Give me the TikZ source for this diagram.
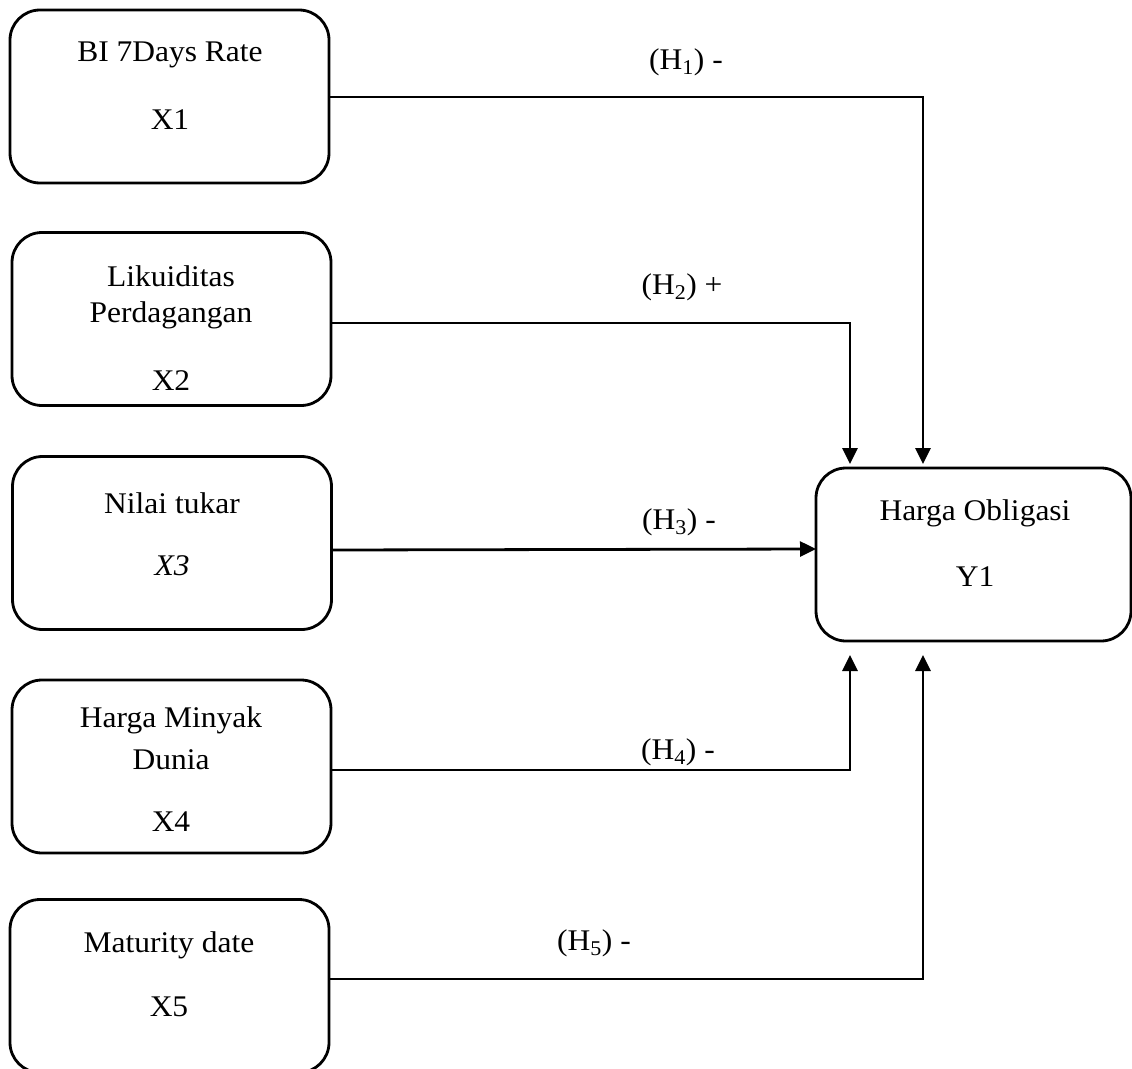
\documentclass[tikz,border=0pt]{standalone}
\usepackage{fontspec}
\setmainfont{Liberation Serif}[FakeStretch=1.05]
\usetikzlibrary{arrows.meta}
\begin{document}
\begin{tikzpicture}[x=1pt,y=-1pt,
  vbox/.style={draw,line width=2.8pt,rounded corners=30pt,rectangle,inner sep=0pt,outer sep=0pt,minimum width=319pt,minimum height=173pt},
  txt/.style={inner sep=0pt,font=\fontsize{30}{36}\selectfont},
  arr/.style={line width=2.8pt,-{Triangle[length=16pt,width=15pt]}}]
\useasboundingbox (0,0) rectangle (1132,1068);
% boxes
\node[vbox] (x1) at (169.5,96.5) {};
\node[vbox] (x2) at (171.5,319) {};
\node[vbox] (x3) at (172,543) {};
\node[vbox] (x4) at (171.5,766.5) {};
\node[vbox] (x5) at (169.5,986) {};
\node[vbox,minimum width=315pt] (y1) at (973.5,554.5) {};
% box texts
\node[txt] (x1a) at (170,55) {BI 7Days Rate};
\node[txt] (x1b) at (170,120) {X1};
\node[txt] (x2a) at (171,276) {Likuiditas};
\node[txt] (x2b) at (171,315) {Perdagangan};
\node[txt] (x2c) at (171,381) {X2};
\node[txt] (x3a) at (172,503) {Nilai tukar};
\node[txt] (x3b) at (172,566) {\itshape X3};
\node[txt] (x4a) at (171,720) {Harga Minyak};
\node[txt] (x4b) at (171,760) {Dunia};
\node[txt] (x4c) at (171,822) {X4};
\node[txt] (x5a) at (169,945) {Maturity date};
\node[txt] (x5b) at (169,1007) {X5};
\node[txt] (y1a) at (975,513) {Harga Obligasi};
\node[txt] (y1b) at (975,577) {Y1};
% hypothesis labels
\node[txt] (h1) at (686,62) {(H\textsubscript{1}) -};
\node[txt] (h2) at (682,287) {(H\textsubscript{2}) +};
\node[txt] (h3) at (679,522) {(H\textsubscript{3}) -};
\node[txt] (h4) at (678,752) {(H\textsubscript{4}) -};
\node[txt] (h5) at (594,943) {(H\textsubscript{5}) -};
% connector ends
\coordinate (t1) at (923,464);
\coordinate (t2) at (850,464);
\coordinate (t4) at (850,655);
\coordinate (t5) at (923,655);
% connectors
\draw[arr] ([yshift=-0.5pt]x1.east) -| (t1);
\draw[arr] ([yshift=-4pt]x2.east) -| (t2);
\draw[arr] ([yshift=-7pt]x3.east) -- ([yshift=5.5pt]y1.west);
\draw[arr] ([yshift=-3.5pt]x4.east) -| (t4);
\draw[arr] ([yshift=7pt]x5.east) -| (t5);
\end{tikzpicture}
\end{document}
